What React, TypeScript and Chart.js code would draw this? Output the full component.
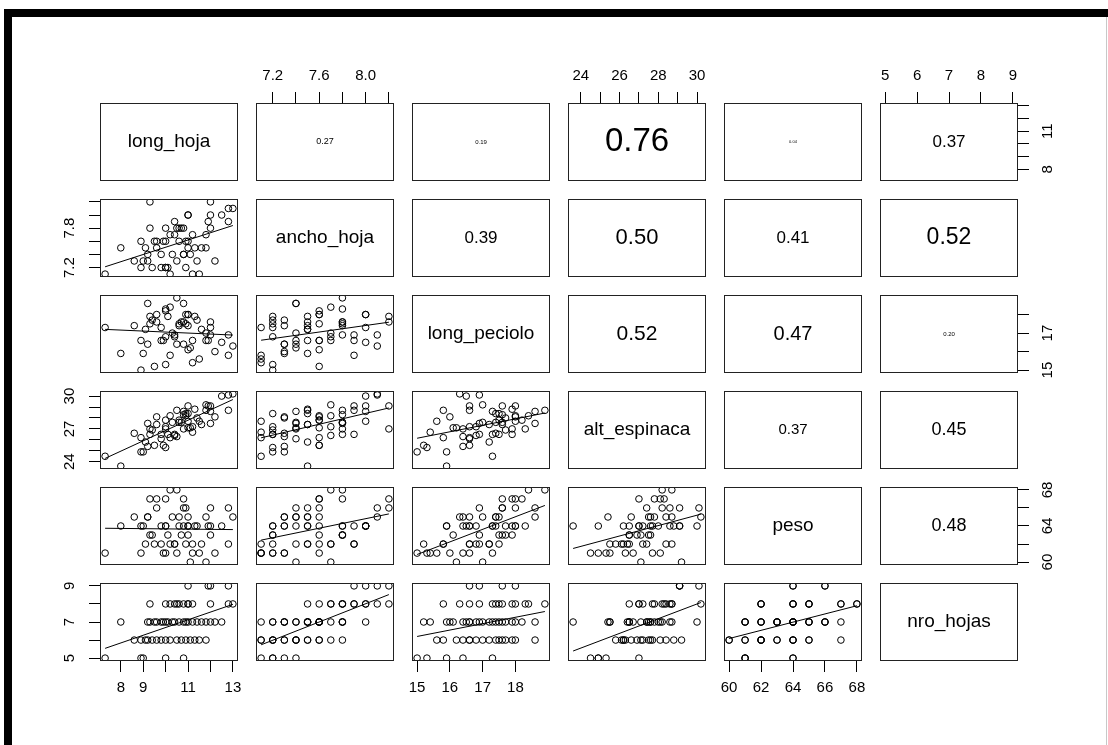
import React, { useEffect, useRef } from "react";
import { Chart, registerables } from "chart.js";

Chart.register(...registerables);

// ---------------- data ----------------
const variableNames = ["long_hoja", "ancho_hoja", "long_peciolo", "alt_espinaca", "peso", "nro_hojas"];

const long_hoja = [
  7.3, 8.9, 9.0, 10.0, 10.8,
  8.6, 8.9, 9.1, 9.4, 9.6, 9.8, 10.0, 10.5, 10.7, 10.9, 11.1, 11.3, 11.5, 11.8, 9.2, 10.2,
  8.0, 9.2, 9.3, 9.5, 9.6, 9.8, 9.9, 10.0, 10.1, 10.3, 10.4, 10.6, 10.8, 11.0, 11.2, 11.4, 11.6, 11.8, 12.0, 12.2, 12.5, 10.9,
  9.3, 10.0, 10.2, 10.4, 10.6, 10.8, 11.0, 11.2, 11.0, 12.0, 12.8, 13.0, 10.5,
  11.0, 12.0, 12.8, 11.9,
];
const ancho_hoja = [
  7.1, 7.2, 7.3, 7.2, 7.4,
  7.3, 7.6, 7.5, 7.2, 7.6, 7.4, 7.2, 7.3, 7.8, 7.2, 7.4, 7.5, 7.1, 7.7, 7.4, 7.1,
  7.5, 7.3, 7.8, 7.6, 7.5, 7.2, 7.6, 7.6, 7.2, 7.4, 7.7, 7.8, 7.4, 7.6, 7.1, 7.3, 7.5, 7.5, 7.8, 7.3, 8.0, 7.6,
  8.2, 7.8, 7.7, 7.9, 7.6, 7.8, 8.0, 7.7, 7.5, 8.0, 7.9, 8.1, 7.8,
  8.0, 8.2, 8.1, 7.9,
];
const long_peciolo = [
  17.3, 15.0, 15.9, 15.3, 16.4,
  17.4, 16.6, 17.2, 17.7, 18.0, 16.6, 16.8, 16.4, 17.6, 17.5, 16.2, 17.9, 15.6, 17.0, 18.6, 15.8,
  15.9, 16.4, 17.5, 15.2, 17.6, 17.3, 16.6, 18.2, 17.9, 17.0, 16.8, 17.4, 18.6, 16.1, 15.4, 17.7, 17.2, 16.6, 16.9, 16.0, 16.5, 18.0,
  17.9, 18.3, 18.4, 16.9, 17.5, 17.6, 18.0, 16.6, 17.4, 17.3, 15.8, 16.3, 18.9,
  18.0, 17.6, 16.9, 16.6,
];
const alt_espinaca = [
  24.5, 24.9, 24.9, 25.3, 27.0,
  26.6, 26.2, 25.8, 26.9, 28.1, 26.1, 27.2, 26.3, 27.6, 28.4, 27.1, 28.8, 27.7, 29.2, 27.5, 26.2,
  23.6, 25.4, 26.5, 25.5, 27.4, 26.5, 25.5, 27.8, 26.5, 27.6, 26.4, 27.6, 28.6, 27.1, 26.7, 28.0, 27.4, 28.7, 27.5, 28.1, 30.0, 28.2,
  27.0, 27.0, 28.2, 26.5, 27.8, 28.3, 27.7, 27.2, 28.4, 28.6, 28.7, 30.2, 28.7,
  29.1, 29.1, 30.1, 29.1,
];
const peso = [
  61, 61, 64, 61, 64,
  65, 64, 62, 63, 67, 62, 64, 61, 63, 62, 60, 64, 61, 60, 65, 62,
  64, 65, 63, 62, 66, 64, 61, 67, 63, 65, 62, 64, 66, 63, 61, 64, 62, 65, 63, 61, 64, 66,
  67, 64, 68, 62, 65, 67, 64, 62, 65, 64, 62, 65, 68,
  64, 66, 66, 64,
];
const nro_hojas = [
  5, 5, 5, 5, 5,
  6, 6, 6, 6, 6, 6, 6, 6, 6, 6, 6, 6, 6, 6, 6, 6,
  7, 7, 7, 7, 7, 7, 7, 7, 7, 7, 7, 7, 7, 7, 7, 7, 7, 7, 7, 7, 7, 7,
  8, 8, 8, 8, 8, 8, 8, 8, 8, 8, 8, 8, 8,
  9, 9, 9, 9,
];
const series = [long_hoja, ancho_hoja, long_peciolo, alt_espinaca, peso, nro_hojas];

// tick values and the labels R printed on them (horizontal axes / vertical axes)
const ticks_long_hoja = [8, 9, 10, 11, 12, 13];
const ticks_ancho_hoja = [7.2, 7.4, 7.6, 7.8, 8.0, 8.2];
const ticks_long_peciolo = [15, 16, 17, 18];
const ticks_alt_espinaca = [24, 25, 26, 27, 28, 29, 30];
const ticks_peso = [60, 62, 64, 66, 68];
const ticks_nro_hojas = [5, 6, 7, 8, 9];
const tickValues = [ticks_long_hoja, ticks_ancho_hoja, ticks_long_peciolo, ticks_alt_espinaca, ticks_peso, ticks_nro_hojas];

const xTickText = [
  ["8", "9", "", "11", "", "13"],
  ["7.2", "", "7.6", "", "8.0", ""],
  ["15", "16", "17", "18"],
  ["24", "", "26", "", "28", "", "30"],
  ["60", "62", "64", "66", "68"],
  ["5", "6", "7", "8", "9"],
];
const yTickText = [
  ["8", "", "", "11", "", ""],
  ["7.2", "", "", "7.8", "", ""],
  ["15", "", "17", ""],
  ["24", "", "", "27", "", "", "30"],
  ["60", "", "64", "", "68"],
  ["5", "", "7", "", "9"],
];

// correlation labels of the upper panels (row, col)
const corLabels = [
  ["", "0.27", "0.19", "0.76", "0.04", "0.37"],
  ["", "", "0.39", "0.50", "0.41", "0.52"],
  ["", "", "", "0.52", "0.47", "0.20"],
  ["", "", "", "", "0.37", "0.45"],
  ["", "", "", "", "", "0.48"],
];

// ---------------- style ----------------
const corFontSize = [
  [0, 9, 6, 33, 4, 17],
  [0, 0, 17, 22, 17, 23],
  [0, 0, 0, 21, 20, 6],
  [0, 0, 0, 0, 15, 18],
  [0, 0, 0, 0, 0, 18],
];
const DIAG_FONT_SIZE = 19;
const FONT = "'Liberation Sans', Arial, sans-serif";
const BOX_LEFT = 100;
const BOX_TOP = 103;
const BOX_W = 138;
const BOX_H = 78;
const STEP_X = 156;
const STEP_Y = 96;
const M = 50;

function extRange(v: number[]): [number, number] {
  const lo = Math.min(...v);
  const hi = Math.max(...v);
  const d = (hi - lo) * 0.04;
  return [lo - d, hi + d];
}

function lm(x: number[], y: number[]) {
  const n = x.length;
  const mx = x.reduce((a, b) => a + b, 0) / n;
  const my = y.reduce((a, b) => a + b, 0) / n;
  let sxy = 0;
  let sxx = 0;
  for (let i = 0; i < n; i++) {
    sxy += (x[i] - mx) * (y[i] - my);
    sxx += (x[i] - mx) * (x[i] - mx);
  }
  const b = sxy / sxx;
  return { a: my - b * mx, b };
}

function Panel({ r, c }: { r: number; c: number }) {
  const ref = useRef<HTMLCanvasElement | null>(null);
  useEffect(() => {
    const xs = series[c];
    const ys = series[r];
    const [xmin, xmax] = extRange(xs);
    const [ymin, ymax] = extRange(ys);
    const hasTop = r === 0 && c % 2 === 1;
    const hasBottom = r === 5 && c % 2 === 0;
    const hasLeft = c === 0 && r % 2 === 1;
    const hasRight = c === 5 && r % 2 === 0;
    const hasX = hasTop || hasBottom;
    const hasY = hasLeft || hasRight;

    const datasets: any[] = [];
    if (r > c) {
      datasets.push({
        type: "scatter",
        data: xs.map((x, i) => ({ x, y: ys[i] })),
        pointRadius: 3.3,
        pointBorderWidth: 1,
        pointBorderColor: "#000",
        pointBackgroundColor: "rgba(0,0,0,0)",
        borderColor: "#000",
        backgroundColor: "rgba(0,0,0,0)",
        showLine: false,
      });
      const fit = lm(xs, ys);
      const lo = Math.min(...xs);
      const hi = Math.max(...xs);
      datasets.push({
        type: "line",
        data: [
          { x: lo, y: fit.a + fit.b * lo },
          { x: hi, y: fit.a + fit.b * hi },
        ],
        borderColor: "#000",
        borderWidth: 1,
        pointRadius: 0,
        fill: false,
        showLine: true,
      });
    }

    const gridOpts = {
      display: true,
      drawOnChartArea: false,
      drawTicks: true,
      tickLength: 11,
      color: "#000",
      tickColor: "#000",
      lineWidth: 1,
    };

    const boxPlugin = {
      id: "panelBox" + r + "_" + c,
      afterDraw(chart: any) {
        const { ctx, chartArea: a } = chart;
        ctx.save();
        ctx.strokeStyle = "#222";
        ctx.lineWidth = 1;
        ctx.strokeRect(Math.round(a.left) + 0.5, Math.round(a.top) + 0.5, Math.round(a.width) - 1, Math.round(a.height) - 1);
        ctx.fillStyle = "#000";
        if (hasY) {
          const ysc = chart.scales.y;
          ctx.font = "15px " + FONT;
          ctx.textAlign = "center";
          ctx.textBaseline = "middle";
          tickValues[r].forEach((v, i) => {
            const t = yTickText[r][i];
            if (!t) return;
            const py = ysc.getPixelForValue(v);
            const px = hasLeft ? a.left - 30 : a.right + 30;
            ctx.save();
            ctx.translate(px, py);
            ctx.rotate(-Math.PI / 2);
            ctx.fillText(t, 0, 0);
            ctx.restore();
          });
        }
        let txt = "";
        let size = DIAG_FONT_SIZE;
        if (r === c) txt = variableNames[r];
        else if (r < c) {
          txt = corLabels[r][c];
          size = corFontSize[r][c];
        }
        if (txt) {
          ctx.font = size + "px " + FONT;
          ctx.textAlign = "center";
          ctx.textBaseline = "middle";
          ctx.fillText(txt, (a.left + a.right) / 2, (a.top + a.bottom) / 2);
        }
        ctx.restore();
      },
    };

    const chart = new Chart(ref.current as HTMLCanvasElement, {
      type: "scatter",
      data: { datasets },
      options: {
        animation: false,
        responsive: false,
        devicePixelRatio: 1,
        events: [],
        layout: {
          padding: {
            top: hasTop ? 0 : M,
            bottom: hasBottom ? 0 : M,
            left: hasLeft ? 0 : M,
            right: hasRight ? 0 : M,
          },
        },
        plugins: { legend: { display: false }, tooltip: { enabled: false }, title: { display: false } },
        scales: {
          x: {
            type: "linear",
            min: xmin,
            max: xmax,
            position: hasTop ? "top" : "bottom",
            display: hasX,
            afterBuildTicks: (s: any) => {
              s.ticks = tickValues[c].map((v) => ({ value: v }));
            },
            afterFit: (s: any) => {
              s.height = hasX ? M : 0;
            },
            grid: gridOpts,
            border: { display: false },
            ticks: {
              autoSkip: false,
              minRotation: 0,
              maxRotation: 0,
              padding: 7,
              color: "#000",
              font: { family: FONT, size: 15 },
              callback: (_v: any, i: number) => xTickText[c][i],
            },
          },
          y: {
            type: "linear",
            min: ymin,
            max: ymax,
            position: hasLeft ? "left" : "right",
            display: hasY,
            afterBuildTicks: (s: any) => {
              s.ticks = tickValues[r].map((v) => ({ value: v }));
            },
            afterFit: (s: any) => {
              s.width = hasY ? M : 0;
            },
            grid: gridOpts,
            border: { display: false },
            ticks: { display: false },
          },
        },
      } as any,
      plugins: [boxPlugin],
    });
    return () => chart.destroy();
  }, [r, c]);

  return (
    <canvas
      ref={ref}
      width={BOX_W + 2 * M}
      height={BOX_H + 2 * M}
      style={{
        position: "absolute",
        left: BOX_LEFT + c * STEP_X - M,
        top: BOX_TOP + r * STEP_Y - M,
        width: BOX_W + 2 * M,
        height: BOX_H + 2 * M,
      }}
    />
  );
}

export default function App() {
  const cells: JSX.Element[] = [];
  for (let r = 0; r < 6; r++) {
    for (let c = 0; c < 6; c++) {
      cells.push(<Panel key={r + "_" + c} r={r} c={c} />);
    }
  }
  return (
    <div
      style={{
        position: "absolute",
        left: 0,
        top: 0,
        width: 1108,
        height: 745,
        background: "#fff",
        overflow: "hidden",
      }}
    >
      <div style={{ position: "absolute", left: 4, top: 9, width: 1104, height: 8, background: "#000" }} />
      <div style={{ position: "absolute", left: 4, top: 9, width: 8, height: 736, background: "#000" }} />
      <div style={{ position: "absolute", left: 1106, top: 17, width: 1, height: 728, background: "#c8c8c8" }} />
      {cells}
    </div>
  );
}
